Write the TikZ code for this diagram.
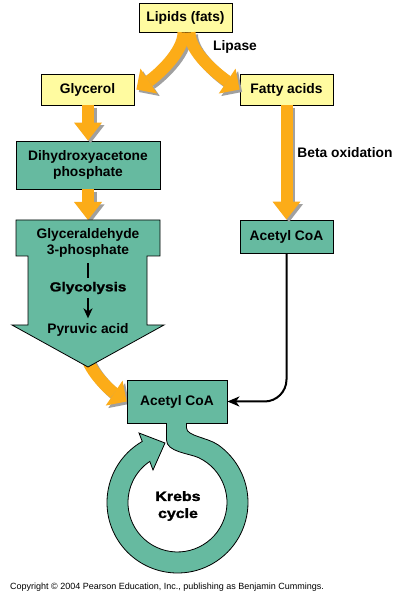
\documentclass[tikz,border=0pt]{standalone}
\usepackage{fontspec}
\setmainfont{Liberation Sans}
\newfontfamily\heavyfont[FakeBold=1.5,FakeStretch=1.18]{Liberation Sans}
\usetikzlibrary{arrows.meta}
\definecolor{tealc}{RGB}{102,186,160}
\definecolor{orng}{RGB}{252,172,24}
\definecolor{ylw}{RGB}{255,251,160}
\definecolor{shade}{RGB}{160,160,160}
\begin{document}
\begin{tikzpicture}[x=1pt,y=1pt,
  lbl/.style={font=\bfseries\fontsize{13.8}{16}\selectfont, align=center, inner sep=0pt},
  heavylbl/.style={font=\heavyfont\bfseries\fontsize{13}{17}\selectfont, align=center, inner sep=0pt},
  ybox/.style={draw=black, line width=0.8pt, fill=ylw, minimum width=93pt, lbl},
  tbox/.style={draw=black, line width=0.8pt, fill=tealc, lbl},
  orv/.style={draw=orng, line width=12pt, -{Triangle[length=18pt,width=28pt,line width=0pt]}},
  orvsh/.style={draw=shade, line width=12pt, -{Triangle[length=18pt,width=28pt,line width=0pt]}, transform canvas={xshift=2.5pt,yshift=-2.5pt}},
  orc/.style={draw=orng, line width=12pt, -{Triangle[length=15pt,width=30pt,line width=0pt]}},
  orcsh/.style={draw=shade, line width=12pt, -{Triangle[length=15pt,width=30pt,line width=0pt]}, transform canvas={xshift=2.5pt,yshift=-2.5pt}},
  conn/.style={draw=black, line width=2pt, -{Stealth[length=12pt,width=10pt,inset=3.5pt]}},
  bar/.style={draw=black, line width=2.5pt}
]
\useasboundingbox (0,0) rectangle (403,600);
\fill[white] (0,0) rectangle (403,600);

% top boxes
\node[ybox, minimum height=29pt] (lipids) at (185.5,582.5) {Lipids (fats)};
\node[ybox, minimum height=31pt] (glycerol) at (87.5,510.5) {Glycerol};
\node[ybox, minimum height=31pt] (fatty) at (286.5,510.5) {Fatty acids};
\node[lbl] (lipase) at (235,553) {Lipase};

% curved arrows from lipids
\draw[orcsh] ([xshift=-2pt]lipids.south) .. controls +(0,-20) and +(20.75,14) .. ([xshift=2pt]glycerol.east);
\draw[orcsh] ([xshift=4pt]lipids.south) .. controls +(0,-20) and +(-20.75,14) .. (fatty.west);
\draw[orc] ([xshift=-2pt]lipids.south) .. controls +(0,-20) and +(20.75,14) .. ([xshift=2pt]glycerol.east);
\draw[orc] ([xshift=4pt]lipids.south) .. controls +(0,-20) and +(-20.75,14) .. (fatty.west);

% second row
\node[tbox, minimum width=144pt, minimum height=48pt] (dhap) at (88,435) {Dihydroxyacetone\\phosphate};
\node[tbox, minimum width=93pt, minimum height=33pt] (acr) at (286.5,363.5) {Acetyl CoA};
\node[lbl] (beta) at (345,447) {Beta oxidation};
\coordinate (g3ptop) at (88,380);
\coordinate (g3ptip) at (88,233);

\draw[orvsh] (glycerol.south -| dhap.north) -- (dhap.north);
\draw[orv] (glycerol.south -| dhap.north) -- (dhap.north);
\draw[orvsh] (dhap.south) -- (g3ptop);
\draw[orv] (dhap.south) -- (g3ptop);
\draw[orvsh] (fatty.south) -- (acr.north);
\draw[orv] (fatty.south) -- (acr.north);

% central acetyl CoA and lower curved arrow
\node[tbox, minimum width=100pt, minimum height=43pt] (acc) at (177,198.5) {};
\draw[orcsh] ([shift={(-2pt,12pt)}]g3ptip) .. controls +(4,-17) and +(-16.6,11.2) .. (acc.west);
\draw[orc] ([shift={(-2pt,12pt)}]g3ptip) .. controls +(4,-17) and +(-16.6,11.2) .. (acc.west);

% big glycolysis arrow
\path[draw=black, line width=0.8pt, fill=tealc]
  (16,380) -- (160,380) -- (160,344) -- (147,344) -- (147,275) -- (164,275)
  -- (g3ptip) -- (12,275) -- (28,275) -- (28,344) -- (16,344) -- cycle;
\node[lbl] (g3p) at (88,357) {Glyceraldehyde\\3-phosphate};
\node[heavylbl] (glyco) at (88,312) {Glycolysis};
\node[lbl] (pyr) at (88,270) {Pyruvic acid};
\draw[bar, shorten <=5.5pt, shorten >=4pt] (g3p) -- (glyco);
\draw[bar, -{Stealth[length=10pt,width=9pt,inset=3pt]}, shorten <=4pt, shorten >=5pt] (glyco) -- (pyr);

% Krebs ring
\path[draw=black, line width=0.8pt, fill=tealc]
  (166.5,177) -- (166.5,160) .. controls (166.5,148) and (189.3,146.6) .. (198.4,142.4)
  arc[start angle=65, end angle=-236, radius=49.5]
  -- (153,130) -- (165,157) -- (139,167) -- (142.25,158.55)
  arc[start angle=120, end angle=415, radius=70.5]
  .. controls (207.7,162.4) and (186.5,164) .. (186.5,172) -- (186.5,177) -- cycle;
\node[tbox, minimum width=100pt, minimum height=43pt] (acc2) at (acc) {Acetyl CoA};
\fill[tealc] (166.9,175.5) rectangle (186.1,178.6);
\node[heavylbl, font=\heavyfont\bfseries\fontsize{13.5}{17}\selectfont] (krebs) at (178,94) {Krebs\\cycle};

% black connector
\draw[conn, rounded corners=22pt] (acr.south) |- (acc.east);

% copyright
\node[anchor=west, inner sep=0pt, font=\fontsize{9}{10}\selectfont] (copy) at (10,13)
  {Copyright \textcopyright{} 2004 Pearson Education, Inc., publishing as Benjamin Cummings.};
\end{tikzpicture}
\end{document}
